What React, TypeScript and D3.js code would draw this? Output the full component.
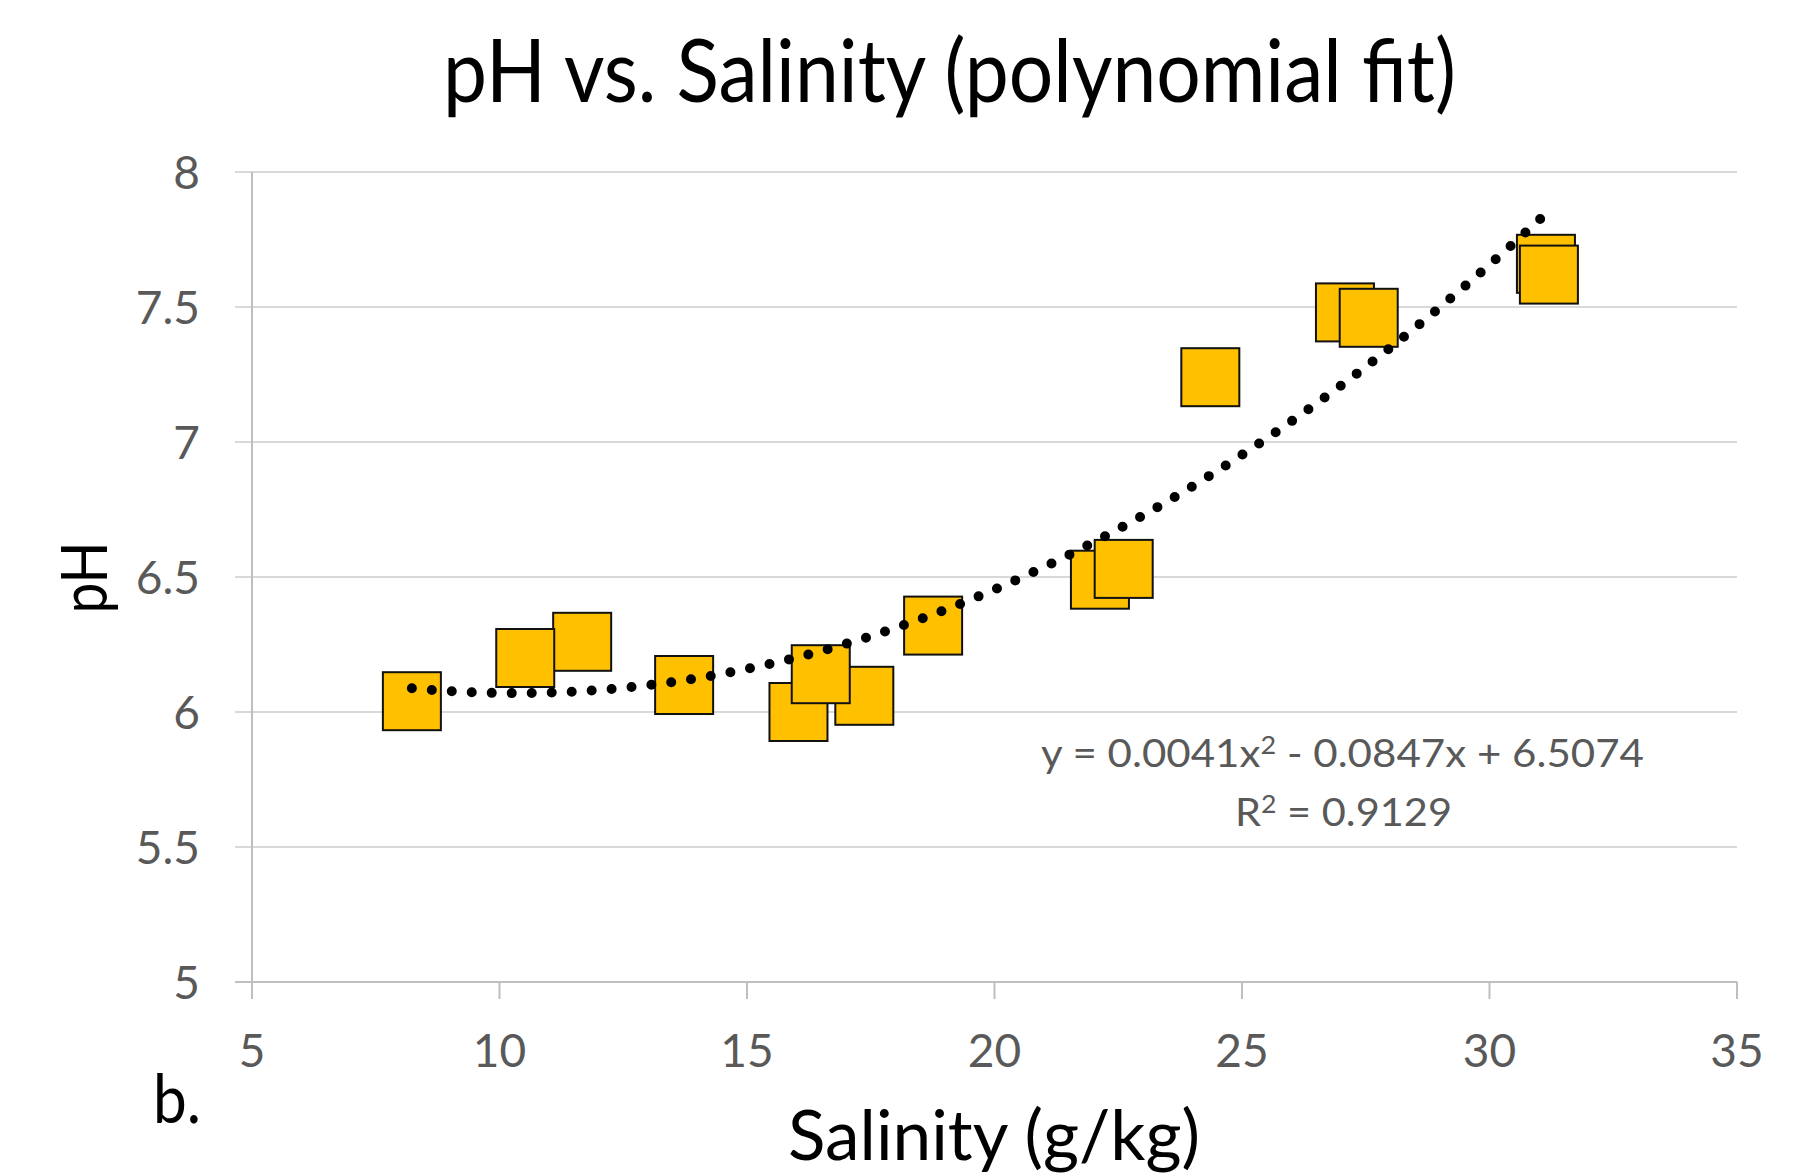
import { useRef, useEffect } from "react";
import * as d3 from "d3";

// salinity (g/kg) and pH, in drawing order
const salinity = [8.23, 11.67, 10.52, 13.73, 16.04, 17.37, 16.49, 18.76, 22.13, 22.61, 24.36, 27.08, 27.56, 31.14, 31.2];
const ph = [6.04, 6.26, 6.2, 6.1, 6.0, 6.06, 6.14, 6.32, 6.49, 6.53, 7.24, 7.48, 7.46, 7.66, 7.62];

// polynomial trendline coefficients (c0 + c1 x + c2 x^2), as printed on the chart
const fitCoef = [6.5074, -0.0847, 0.0041];
// label pieces: [text, superscript?]
const fitLabel: [string, boolean][] = [["y = 0.0041x", false], ["2", true], [" - 0.0847x + 6.5074", false]];
const r2Label: [string, boolean][] = [["R", false], ["2", true], [" = 0.9129", false]];

const xTicks = [5, 10, 15, 20, 25, 30, 35];
const yTicks = [5, 5.5, 6, 6.5, 7, 7.5, 8];

const W = 1819;
const H = 1176;
const FONT = "Lato, 'Open Sans', sans-serif";

export default function App() {
  const svgRef = useRef<SVGSVGElement | null>(null);

  useEffect(() => {
    if (!svgRef.current) return;
    const svg = d3.select(svgRef.current);
    svg.selectAll("*").remove();

    const margin = { left: 252, right: W - 1737, top: 172, bottom: H - 982 };
    const x = d3.scaleLinear().domain([5, 35]).range([margin.left, W - margin.right]);
    const y = d3.scaleLinear().domain([5, 8]).range([H - margin.bottom, margin.top]);

    svg.append("rect").attr("width", W).attr("height", H).attr("fill", "#fff");

    // horizontal gridlines + left ticks
    svg
      .append("g")
      .selectAll("line")
      .data(yTicks)
      .join("line")
      .attr("x1", x(5) - 17)
      .attr("x2", x(35))
      .attr("y1", (d) => y(d))
      .attr("y2", (d) => y(d))
      .attr("stroke", (d) => (d === 5 ? "#bfbfbf" : "#d9d9d9"))
      .attr("stroke-width", 2);

    // y axis line
    svg
      .append("line")
      .attr("x1", x(5))
      .attr("x2", x(5))
      .attr("y1", y(8))
      .attr("y2", y(5))
      .attr("stroke", "#bfbfbf")
      .attr("stroke-width", 2);

    // x ticks (downward)
    svg
      .append("g")
      .selectAll("line")
      .data(xTicks)
      .join("line")
      .attr("x1", (d) => x(d))
      .attr("x2", (d) => x(d))
      .attr("y1", y(5))
      .attr("y2", y(5) + 17)
      .attr("stroke", "#bfbfbf")
      .attr("stroke-width", 2);

    // tick labels
    svg
      .append("g")
      .selectAll("text")
      .data(yTicks)
      .join("text")
      .attr("x", 200)
      .attr("y", (d) => y(d) + 16.5)
      .attr("text-anchor", "end")
      .attr("font-family", FONT)
      .attr("font-size", 46)
      .attr("fill", "#595959")
      .text((d) => String(d));

    svg
      .append("g")
      .selectAll("text")
      .data(xTicks)
      .join("text")
      .attr("x", (d) => x(d))
      .attr("y", 1067)
      .attr("text-anchor", "middle")
      .attr("font-family", FONT)
      .attr("font-size", 46)
      .attr("fill", "#595959")
      .text((d) => String(d));

    // markers
    const size = 58;
    svg
      .append("g")
      .selectAll("rect")
      .data(salinity.map((s, i) => [s, ph[i]]))
      .join("rect")
      .attr("x", (d) => x(d[0]) - size / 2)
      .attr("y", (d) => y(d[1]) - size / 2)
      .attr("width", size)
      .attr("height", size)
      .attr("fill", "#ffc000")
      .attr("stroke", "#111")
      .attr("stroke-width", 2);

    // dotted polynomial trendline across the data range
    const [x0, x1] = d3.extent(salinity) as [number, number];
    const poly = (v: number) => fitCoef[0] + fitCoef[1] * v + fitCoef[2] * v * v;
    const xs = d3.range(0, 101).map((i) => x0 + ((x1 - x0) * i) / 100);
    const line = d3
      .line<number>()
      .x((d) => x(d))
      .y((d) => y(poly(d)))
      .curve(d3.curveMonotoneX);
    svg
      .append("path")
      .attr("d", line(xs))
      .attr("fill", "none")
      .attr("stroke", "#000")
      .attr("stroke-width", 10)
      .attr("stroke-linecap", "round")
      .attr("stroke-dasharray", "0 20");

    // trendline label
    const label = (parts: [string, boolean][], lx: number, ly: number, len: number) => {
      const t = svg
        .append("text")
        .attr("x", lx)
        .attr("y", ly)
        .attr("font-family", FONT)
        .attr("font-size", 39)
        .attr("fill", "#595959")
        .attr("textLength", len)
        .attr("lengthAdjust", "spacingAndGlyphs");
      parts.forEach(([s, sup]) => {
        const ts = t.append("tspan").text(s);
        if (sup) ts.attr("font-size", 25).attr("dy", -13);
        else ts.attr("dy", 0);
      });
      // restore baseline after superscript
      t.selectAll("tspan").each(function (_, i) {
        if (i > 0 && parts[i - 1][1]) d3.select(this).attr("dy", 13);
      });
    };
    label(fitLabel, 1041, 767, 603);
    label(r2Label, 1235, 826, 217);

    // titles
    svg
      .append("text")
      .attr("x", 443)
      .attr("y", 102)
      .attr("font-family", FONT)
      .attr("font-size", 88)
      .attr("fill", "#000")
      .attr("textLength", 1013)
      .attr("lengthAdjust", "spacingAndGlyphs")
      .text("pH vs. Salinity (polynomial fit)");

    svg
      .append("text")
      .attr("x", 788)
      .attr("y", 1160)
      .attr("font-family", FONT)
      .attr("font-size", 70)
      .attr("fill", "#000")
      .attr("textLength", 412)
      .attr("lengthAdjust", "spacingAndGlyphs")
      .text("Salinity (g/kg)");

    svg
      .append("text")
      .attr("transform", "translate(107,577.5) rotate(-90)")
      .attr("text-anchor", "middle")
      .attr("font-family", FONT)
      .attr("font-size", 64)
      .attr("fill", "#000")
      .attr("textLength", 72)
      .attr("lengthAdjust", "spacingAndGlyphs")
      .text("pH");

    svg
      .append("text")
      .attr("x", 153)
      .attr("y", 1123)
      .attr("font-family", FONT)
      .attr("font-size", 68)
      .attr("fill", "#000")
      .attr("textLength", 48)
      .attr("lengthAdjust", "spacingAndGlyphs")
      .text("b.");
  }, []);

  return (
    <div style={{ position: "absolute", left: 0, top: 0 }}>
      <svg ref={svgRef} width={W} height={H} style={{ display: "block" }}></svg>
    </div>
  );
}
